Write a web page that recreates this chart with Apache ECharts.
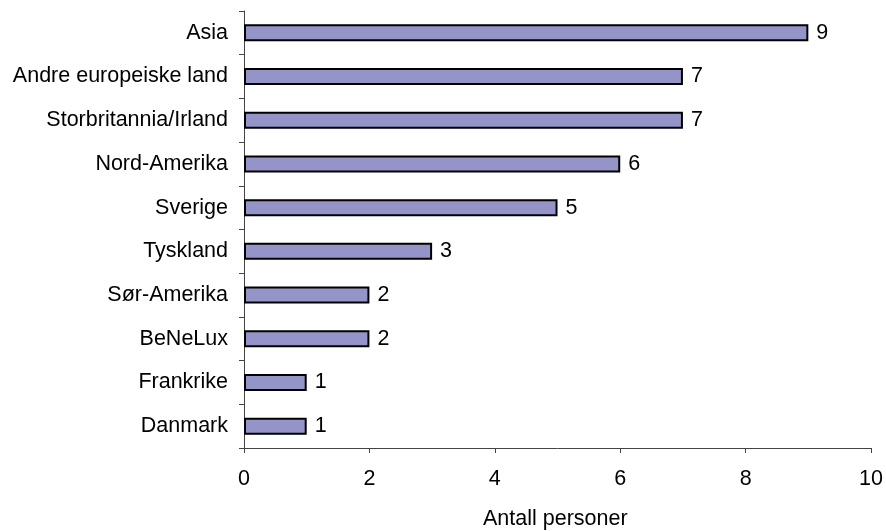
<!DOCTYPE html>
<html>
<head>
<meta charset="utf-8">
<script src="https://cdn.jsdelivr.net/npm/echarts@6/dist/echarts.min.js"></script>
<style>
  html, body { margin: 0; padding: 0; background: #fff; }
  #chart { width: 886px; height: 531px; }
</style>
</head>
<body>
<div id="chart"></div>
<script>
// Regions, listed top to bottom
const regions = ['Asia', 'Andre europeiske land', 'Storbritannia/Irland', 'Nord-Amerika', 'Sverige',
                 'Tyskland', 'Sør-Amerika', 'BeNeLux', 'Frankrike', 'Danmark'];
const persons = [9, 7, 7, 6, 5, 3, 2, 2, 1, 1];
const xTicks = [0, 2, 4, 6, 8, 10];
const xTitle = 'Antall personer';

const font = 'Liberation Sans, Arial, sans-serif';
const fs = 21.5;
const chart = echarts.init(document.getElementById('chart'));
chart.setOption({
  animation: false,
  grid: { left: 244, right: 13, top: 11, bottom: 83 },
  xAxis: {
    type: 'value',
    min: xTicks[0],
    max: xTicks[xTicks.length - 1],
    interval: xTicks[1] - xTicks[0],
    axisLine: { show: true, lineStyle: { color: '#444', width: 1 } },
    axisTick: { show: true, length: 5, lineStyle: { color: '#444' } },
    axisLabel: { color: '#000', fontFamily: font, fontSize: fs, margin: 20 },
    splitLine: { show: false }
  },
  yAxis: {
    type: 'category',
    data: regions,
    inverse: true,
    axisLine: { show: true, lineStyle: { color: '#444', width: 1 } },
    axisTick: { show: true, length: 5, lineStyle: { color: '#444' } },
    axisLabel: { color: '#000', fontFamily: font, fontSize: fs, margin: 16 }
  },
  graphic: [{
    type: 'text',
    left: 483,
    top: 508,
    style: { text: xTitle, fill: '#000', font: fs + 'px ' + font }
  }],
  series: [{
    type: 'bar',
    data: persons,
    barWidth: 17,
    itemStyle: { color: '#9494c8', borderColor: '#000', borderWidth: 2 },
    label: {
      show: true,
      position: 'right',
      distance: 8,
      color: '#000',
      fontFamily: font,
      fontSize: fs
    }
  }]
});
</script>
</body>
</html>
